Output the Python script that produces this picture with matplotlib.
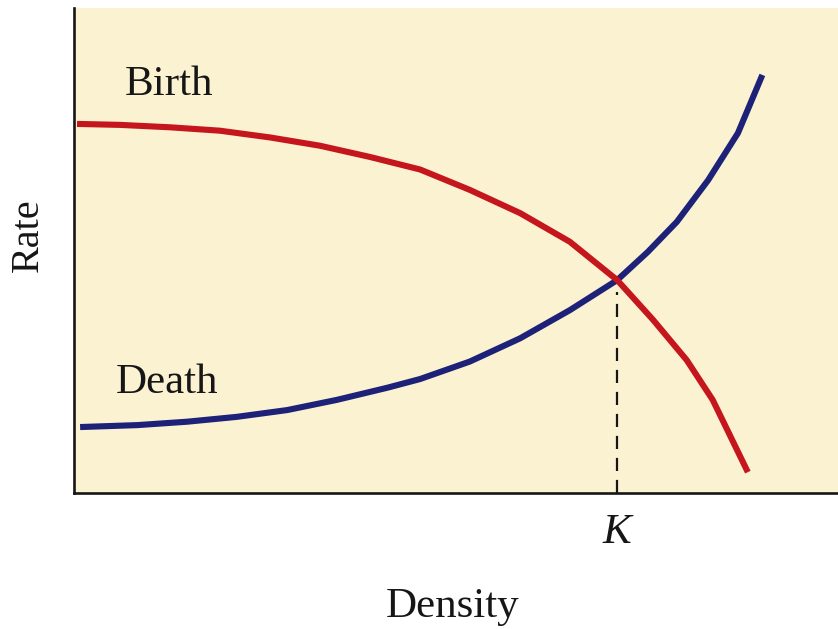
import matplotlib.pyplot as plt
from matplotlib import transforms

RED   = "#c4161c"
NAVY  = "#1d2178"
CREAM = "#fbf2d2"
INK   = "#161616"

# Density (0-100) and rate (0-100)
birth_density = [0.4, 6.0, 12.6, 19.1, 25.7, 32.2, 38.7, 45.3, 51.8, 58.4,
                 64.9, 71.1, 75.8, 80.2, 83.6, 88.2]
birth_rate    = [76.1, 75.9, 75.4, 74.7, 73.3, 71.6, 69.3, 66.7, 62.5, 57.7,
                 51.8, 43.9, 35.7, 27.4, 19.2, 4.3]

death_density = [0.8, 8.3, 14.8, 21.3, 27.9, 34.4, 41.0, 45.3, 51.8, 58.4,
                 64.9, 71.1, 75.1, 78.9, 83.0, 86.9, 90.1]
death_rate    = [13.6, 14.0, 14.7, 15.7, 17.1, 19.2, 21.7, 23.5, 27.1, 31.9,
                 37.7, 43.9, 49.7, 55.9, 64.5, 74.2, 86.2]

# Carrying capacity, where the two curves meet
K_DENSITY = 71.1
K_RATE    = 43.9

plt.rcParams["font.family"] = ["Liberation Serif", "DejaVu Serif"]

fig = plt.figure(figsize=(8.38, 6.29), dpi=100)
ax = fig.add_axes([0.0883, 0.2162, 0.9117, 0.7711])
ax.set_facecolor(CREAM)
ax.set_xlim(0, 100)
ax.set_ylim(0, 100)

ax.plot(death_density, death_rate, color=NAVY, linewidth=4.4,
        solid_capstyle="butt", solid_joinstyle="round", zorder=3)
ax.plot(birth_density, birth_rate, color=RED, linewidth=4.4,
        solid_capstyle="butt", solid_joinstyle="round", zorder=4)

kline, = ax.plot([K_DENSITY, K_DENSITY], [0, K_RATE - 2.5],
                 color=INK, linewidth=1.6, zorder=2)
kline.set_dashes((5.9, 4.0))

ax.text(6.7, 82.1, "Birth", fontsize=31, color=INK, va="baseline")
ax.text(5.4, 20.6, "Death", fontsize=31, color=INK, va="baseline")

# K sits under the axis, at the dashed line
blend = transforms.blended_transform_factory(ax.transData, ax.transAxes)
ax.text(K_DENSITY, -0.103, "K", transform=blend, fontsize=31,
        fontstyle="italic", color=INK, ha="center", va="baseline")

ax.set_xlabel("Density", fontsize=31, color=INK)
ax.xaxis.label.set_va("baseline")
ax.xaxis.set_label_coords(0.495, -0.2557)
ax.set_ylabel("Rate", fontsize=29, color=INK)
ax.yaxis.label.set_va("center")
ax.yaxis.set_label_coords(-0.0602, 0.532)

ax.set_xticks([])
ax.set_yticks([])
for side in ("top", "right"):
    ax.spines[side].set_visible(False)
for side in ("left", "bottom"):
    ax.spines[side].set_linewidth(1.9)
    ax.spines[side].set_color(INK)

fig.savefig("out.png", dpi=100)
